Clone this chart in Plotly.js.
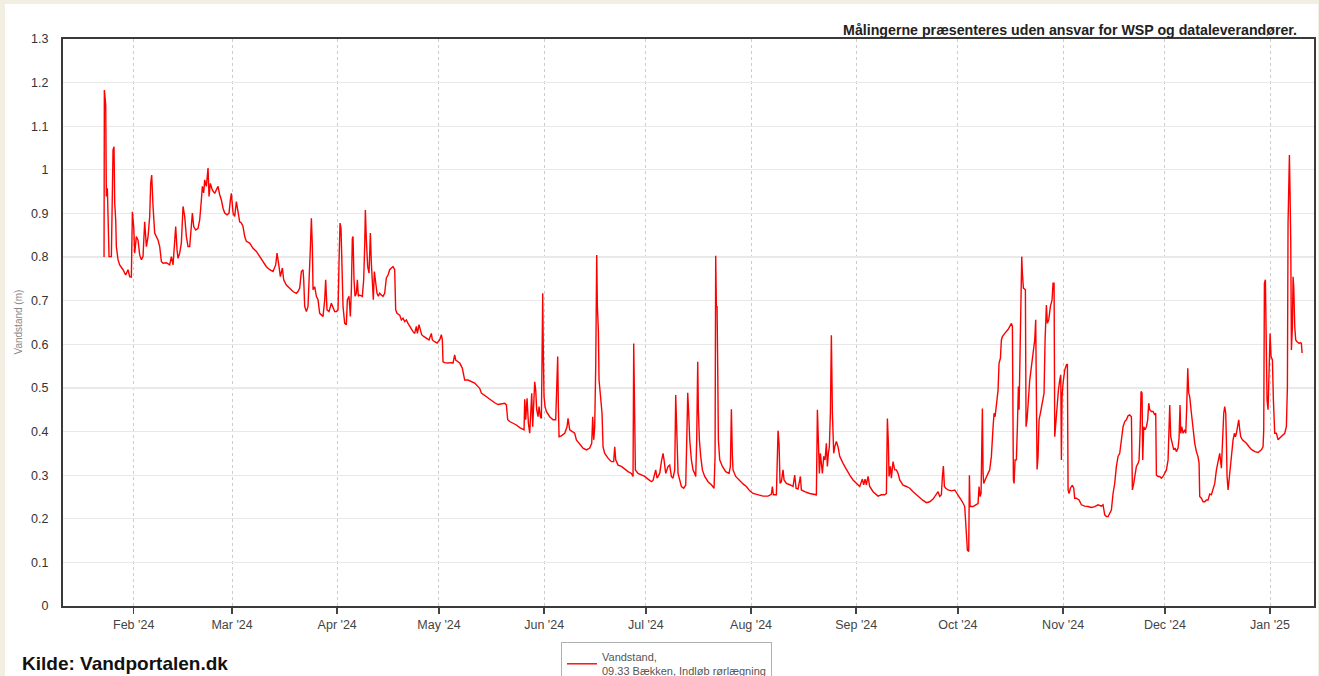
<!DOCTYPE html>
<html>
<head>
<meta charset="utf-8">
<script src="https://cdn.plot.ly/plotly-3.0.1.min.js"></script>
<style>
  html, body { margin:0; padding:0; background:#f2eee2; width:1319px; height:676px; overflow:hidden; }
  #panel { position:absolute; left:5px; top:4px; width:1313px; height:700px; background:#ffffff; }
  #chart { position:absolute; left:0; top:0; width:1319px; height:676px; }
</style>
</head>
<body>
<div id="panel"></div>
<div id="chart"></div>
<script>
// Day of year 2024 (0 = 1 Jan 2024 00:00), fractional
const day = [
22.26,22.35,22.75,22.94,23.24,23.53,23.73,24.12,24.42,24.91,25.2,25.4,25.7,25.89,26.38,26.87,27.86,28.64,29.33,29.82,
30.31,30.61,31.0,31.3,31.79,32.28,32.77,33.26,33.75,34.24,34.74,35.23,35.72,36.01,36.31,36.7,37.19,37.68,38.17,38.67,
39.16,39.65,40.63,41.61,42.11,42.6,43.38,43.78,44.07,44.56,45.05,45.55,46.04,46.53,47.02,47.51,48.0,48.3,48.69,49.28,
49.97,50.46,50.95,51.25,51.64,51.93,52.42,52.92,53.21,53.6,54.19,54.88,55.37,55.86,56.36,56.85,57.34,57.83,58.52,59.11,
59.5,59.8,60.29,60.78,61.27,61.76,62.25,62.74,63.23,63.73,64.22,65.2,66.18,67.17,68.15,69.13,70.11,71.1,72.08,72.86,
73.26,73.85,74.24,74.83,75.22,76.0,
76.99,77.97,78.95,79.44,79.94,80.43,80.92,81.12,81.41,81.9,82.39,82.69,83.08,83.38,83.67,83.87,84.36,84.85,85.34,85.83,
86.32,86.82,87.31,87.6,87.99,88.58,89.27,89.76,90.25,90.75,91.24,91.53,91.83,92.12,92.42,92.71,93.2,93.69,93.99,94.48,
94.87,95.17,95.46,95.66,95.95,96.25,96.64,96.94,97.23,97.62,98.41,98.8,99.1,99.3,99.59,99.98,100.38,100.77,101.06,101.36,
101.65,101.95,102.34,102.73,103.13,103.52,104.01,104.5,104.99,105.49,105.98,106.47,106.96,107.45,107.94,108.24,108.63,109.42,109.91,110.4,
110.89,111.38,111.87,112.37,112.86,113.35,113.84,114.33,114.63,115.12,115.51,115.9,116.49,117.28,118.06,118.75,119.05,119.74,120.43,121.21,
121.7,121.99,122.19,122.68,123.67,124.65,125.14,125.63,125.93,126.61,127.11,127.89,128.28,128.58,129.56,130.54,131.53,132.51,133.0,
133.5,134.48,135.46,136.45,137.43,138.41,139.4,140.38,140.87,141.26,141.85,142.84,143.82,144.8,145.78,146.08,146.27,146.57,146.96,147.36,
147.75,148.04,148.34,148.63,148.93,149.22,149.52,149.81,150.2,150.5,150.89,151.19,151.38,151.58,151.78,151.97,152.27,152.66,153.64,154.63,
155.41,155.71,156.0,156.2,156.4,157.08,158.07,158.75,159.05,159.54,160.33,161.01,161.51,162.49,163.47,164.45,165.44,166.03,166.32,166.62,
166.91,167.21,167.4,167.5,167.7,167.99,168.19,168.48,168.78,169.07,169.37,169.86,170.84,171.82,172.51,172.81,173.1,173.79,174.77,175.76,
176.74,177.72,178.21,178.41,178.7,178.9,179.69,180.67,181.65,182.63,183.62,184.11,184.89,185.29,186.07,186.57,187.06,187.35,187.84,188.53,
189.02,189.51,190.0,190.5,190.79,191.18,191.48,191.97,
192.46,193.15,193.74,194.13,194.33,194.62,194.92,195.41,195.9,196.39,196.69,196.98,197.28,197.47,197.77,198.16,198.65,199.34,200.32,201.31,
202.09,202.39,202.58,202.78,202.98,203.17,203.37,203.76,204.55,205.53,206.51,206.91,207.2,207.5,207.69,208.48,209.46,210.64,211.62,212.61,
213.59,215.06,216.54,218.01,218.99,219.29,219.58,220.47,220.76,220.96,221.25,221.55,221.94,222.43,222.73,223.42,224.4,225.38,225.87,226.27,
226.86,227.54,227.84,228.82,230.3,231.77,232.26,232.56,232.85,233.15,233.44,233.74,234.03,234.42,234.82,235.21,235.5,235.8,236.09,236.39,
236.68,236.98,237.37,237.67,238.16,238.65,239.14,240.12,241.11,242.09,243.07,244.05,245.04,245.82,246.21,246.61,247.0,247.49,247.98,248.97,
250.44,251.42,252.41,252.9,253.19,253.49,253.68,254.08,254.37,254.86,255.36,255.85,256.34,256.83,
257.81,258.8,259.78,260.76,261.74,262.73,263.71,264.69,265.67,266.66,267.64,268.13,268.62,269.11,269.41,269.7,270.0,270.39,271.08,272.06,
273.05,273.73,274.52,275.3,275.99,276.29,276.48,276.78,277.17,277.37,277.57,277.96,278.45,279.24,279.92,280.22,280.51,280.81,281.0,281.2,
281.4,281.59,281.99,282.38,282.87,283.36,283.85,284.35,284.64,284.94,285.33,285.82,286.11,286.51,286.8,287.1,287.79,288.77,289.75,290.05,
290.34,290.54,290.83,291.22,291.52,291.81,292.01,292.21,292.5,292.8,292.99,293.29,293.88,294.07,294.37,294.76,295.16,295.65,296.14,296.63,
296.92,297.12,297.32,297.61,297.91,298.3,298.89,299.38,299.68,300.07,300.36,300.76,301.25,301.74,302.03,302.33,302.53,302.82,303.21,303.61,
304.0,304.3,304.49,304.69,304.98,305.47,305.97,306.26,306.46,306.75,307.14,307.73,308.13,308.42,308.91,309.7,310.39,311.37,312.35,313.33,
314.32,315.3,316.28,316.77,317.27,317.76,318.25,318.74,319.23,319.72,320.21,320.7,321.2,
321.69,322.18,322.67,323.16,323.65,324.14,324.64,325.13,325.42,325.82,326.21,326.6,327.09,327.39,327.68,327.98,328.27,328.47,328.76,329.16,
329.55,329.94,330.24,330.53,331.02,331.52,332.01,332.3,332.5,332.99,333.48,333.97,334.46,334.96,335.45,335.94,336.23,336.43,336.72,337.21,
337.61,338.0,338.39,338.88,339.18,339.47,339.67,339.97,340.36,340.85,341.15,341.44,341.74,342.03,342.32,342.82,343.31,343.8,344.29,344.78,
345.08,345.27,345.76,346.26,346.75,347.24,347.73,348.22,348.71,349.2,349.7,350.19,350.68,351.17,351.66,351.96,352.35,352.64,352.94,353.13,
353.33,353.63,353.92,354.31,354.71,355.1,355.49,355.79,356.08,356.48,356.77,357.07,357.36,357.85,358.54,359.03,359.82,360.5,361.48,362.47,
363.45,363.94,364.14,364.34,364.63,364.83,365.12,365.42,365.71,366.01,366.3,366.7,366.99,367.38,367.88,368.37,368.86,369.35,369.84,370.33,
370.82,371.12,371.31,371.51,371.71,371.9,372.1,372.3,372.59,372.79,372.98,373.28,373.57,373.97,374.56,374.95,375.24,375.44
];
// Vandstand (m)
const level = [
0.80,1.183,1.149,0.939,0.958,0.855,0.801,0.801,0.801,1.046,1.053,0.924,0.885,0.824,0.794,0.782,0.771,0.759,0.771,0.755,
0.754,0.904,0.870,0.809,0.847,0.839,0.805,0.794,0.801,0.881,0.824,0.847,0.893,0.969,0.988,0.916,0.855,0.847,0.839,0.824,
0.790,0.786,0.787,0.782,0.801,0.782,0.870,0.817,0.797,0.809,0.832,0.916,0.893,0.847,0.824,0.824,0.885,0.901,0.870,0.862,
0.866,0.885,0.931,0.962,0.947,0.977,0.962,1.004,0.939,0.969,0.954,0.946,0.954,0.962,0.943,0.931,0.912,0.901,0.897,0.901,
0.931,0.946,0.901,0.893,0.927,0.901,0.881,0.878,0.870,0.847,0.836,0.832,0.820,0.813,0.801,0.790,0.778,0.771,0.767,0.782,
0.809,0.778,0.755,0.775,0.748,0.736,
0.729,0.721,0.717,0.721,0.729,0.767,0.771,0.748,0.687,0.675,0.687,0.732,0.820,0.889,0.824,0.725,0.732,0.710,0.702,0.671,
0.667,0.664,0.702,0.748,0.679,0.675,0.694,0.683,0.675,0.675,0.679,0.786,0.878,0.866,0.786,0.687,0.648,0.645,0.702,0.710,
0.664,0.725,0.843,0.847,0.748,0.710,0.717,0.748,0.710,0.713,0.710,0.748,0.824,0.908,0.840,0.778,0.763,0.855,0.786,0.748,
0.702,0.767,0.740,0.717,0.710,0.717,0.713,0.710,0.717,0.752,0.759,0.771,0.775,0.778,0.771,0.679,0.671,0.667,0.656,0.660,
0.652,0.656,0.648,0.641,0.633,0.629,0.625,0.641,0.625,0.645,0.633,0.622,0.618,0.614,0.610,0.625,0.610,0.606,0.603,0.610,
0.622,0.610,0.560,0.558,0.557,0.558,0.557,0.576,0.564,0.560,0.557,0.545,0.526,0.518,0.518,0.515,0.511,0.503,0.499,
0.488,0.482,0.476,0.471,0.466,0.462,0.463,0.465,0.461,0.427,0.423,0.419,0.415,0.409,0.405,0.404,0.474,0.427,0.476,0.419,
0.396,0.457,0.488,0.411,0.450,0.514,0.495,0.450,0.434,0.457,0.434,0.430,0.564,0.717,0.572,0.480,0.457,0.446,0.434,0.427,
0.427,0.511,0.572,0.457,0.388,0.390,0.396,0.411,0.430,0.404,0.400,0.396,0.381,0.372,0.362,0.358,0.362,0.373,0.434,0.381,
0.411,0.549,0.686,0.805,0.686,0.633,0.518,0.495,0.472,0.442,0.365,0.350,0.339,0.331,0.331,0.365,0.335,0.323,0.320,0.313,
0.308,0.304,0.297,0.602,0.442,0.312,0.304,0.300,0.297,0.291,0.285,0.288,0.312,0.293,0.304,0.331,0.350,0.335,0.304,0.320,
0.323,0.297,0.293,0.312,0.484,0.381,0.304,0.289,
0.274,0.270,0.277,0.411,0.489,0.442,0.381,0.335,0.312,0.304,0.297,0.381,0.560,0.450,0.381,0.343,0.312,0.297,0.285,0.278,
0.270,0.343,0.803,0.686,0.686,0.549,0.381,0.335,0.320,0.308,0.304,0.320,0.451,0.343,0.312,0.297,0.289,0.280,0.274,0.264,
0.258,0.255,0.252,0.252,0.256,0.274,0.255,0.255,0.343,0.402,0.373,0.281,0.285,0.312,0.289,0.281,0.278,0.274,0.300,0.270,
0.268,0.297,0.266,0.262,0.258,0.255,0.255,0.450,0.381,0.304,0.350,0.320,0.304,0.343,0.335,0.373,0.320,0.350,0.365,0.442,
0.621,0.442,0.350,0.365,0.377,0.365,0.343,0.327,0.312,0.300,0.289,0.281,0.274,0.291,0.278,0.291,0.278,0.297,0.274,0.262,
0.252,0.255,0.255,0.258,0.430,0.373,0.297,0.320,0.293,0.331,0.312,0.312,0.304,0.289,
0.277,0.274,0.270,0.262,0.255,0.247,0.242,0.237,0.239,0.245,0.255,0.262,0.251,0.255,0.297,0.321,0.274,0.270,0.266,0.264,
0.266,0.258,0.247,0.239,0.228,0.190,0.151,0.128,0.125,0.300,0.228,0.228,0.228,0.232,0.235,0.274,0.251,0.258,0.320,0.453,
0.304,0.281,0.289,0.297,0.304,0.312,0.343,0.411,0.442,0.434,0.457,0.495,0.557,0.568,0.610,0.618,0.625,0.634,0.648,0.641,
0.289,0.281,0.335,0.335,0.411,0.503,0.450,0.534,0.740,0.801,0.763,0.729,0.725,0.411,0.427,0.472,0.518,0.549,0.579,0.610,
0.656,0.442,0.313,0.342,0.427,0.442,0.465,0.488,0.610,0.690,0.648,0.656,0.687,0.702,0.740,0.740,0.388,0.419,0.457,0.495,
0.518,0.530,0.335,0.480,0.511,0.541,0.553,0.555,0.266,0.258,0.270,0.277,0.270,0.247,0.247,0.243,0.232,0.229,0.228,0.226,
0.228,0.232,0.229,0.232,0.209,0.205,0.205,0.213,0.220,0.258,0.281,0.320,0.343,
0.350,0.381,0.411,0.423,0.427,0.436,0.438,0.434,0.266,0.281,0.304,0.320,0.327,0.335,0.396,0.492,0.488,0.335,0.411,0.404,
0.411,0.427,0.465,0.450,0.446,0.446,0.438,0.442,0.300,0.297,0.297,0.293,0.297,0.304,0.312,0.335,0.457,0.461,0.388,0.373,
0.358,0.362,0.354,0.362,0.385,0.461,0.396,0.411,0.396,0.404,0.396,0.457,0.545,0.488,0.480,0.442,0.404,0.373,0.354,0.342,
0.327,0.251,0.247,0.239,0.239,0.243,0.243,0.257,0.255,0.266,0.281,0.312,0.331,0.350,0.316,0.373,0.442,0.457,0.442,0.381,
0.297,0.266,0.289,0.335,0.350,0.381,0.396,0.388,0.396,0.411,0.427,0.404,0.388,0.381,0.377,0.373,0.365,0.359,0.354,0.352,
0.358,0.365,0.404,0.740,0.748,0.610,0.472,0.450,0.518,0.625,0.572,0.564,0.472,0.396,0.396,0.381,0.385,0.388,0.392,0.396,
0.411,0.503,0.878,0.954,1.034,0.946,0.839,0.587,0.641,0.755,0.733,0.641,0.610,0.606,0.602,0.604,0.602,0.580
];

const seriesName = "Vandstand,<br>09.33 Bækken, Indløb rørlægning";
const titleText = "Målingerne præsenteres uden ansvar for WSP og dataleverandører.";
const yTitle = "Vandstand (m)";
const sourceText = "Kilde: Vandportalen.dk";
const yTicks = [0,0.1,0.2,0.3,0.4,0.5,0.6,0.7,0.8,0.9,1,1.1,1.2,1.3];
const yTickText = ["0","0.1","0.2","0.3","0.4","0.5","0.6","0.7","0.8","0.9","1","1.1","1.2","1.3"];

function toDate(d) {
  const t = new Date(Date.UTC(2024, 0, 1) + d * 86400000);
  return t.toISOString().slice(0, 16).replace('T', ' ');
}
const xDates = day.map(toDate);

const FONT = "Liberation Sans, Arial, sans-serif";

const trace = {
  type: 'scatter', mode: 'lines',
  x: xDates, y: level,
  name: seriesName,
  line: { color: '#ff0000', width: 1.4 },
  showlegend: true
};

const layout = {
  width: 1319, height: 676,
  margin: { l: 63, r: 5, t: 39, b: 70, pad: 0, autoexpand: false },
  paper_bgcolor: 'rgba(0,0,0,0)',
  plot_bgcolor: '#ffffff',
  font: { family: FONT, color: '#444' },
  title: {
    text: '<b>' + titleText + '</b>',
    x: 1297 / 1319, xanchor: 'right', xref: 'container',
    y: 1 - 30 / 676, yanchor: 'middle', yref: 'container',
    font: { family: FONT, size: 14.2, color: '#222' }
  },
  xaxis: {
    type: 'date',
    range: [toDate(10.16), toDate(378.96)],
    tick0: '2024-02-01', dtick: 'M1',
    tickformat: "%b '%y",
    ticks: 'outside', ticklen: 6, tickwidth: 1.5, tickcolor: '#444',
    tickfont: { family: FONT, size: 12.5, color: '#444' },
    showgrid: true, gridcolor: '#cccccc', gridwidth: 1, griddash: 'dot',
    showline: true, linecolor: '#3a3a3a', linewidth: 2, mirror: true,
    zeroline: false, fixedrange: true
  },
  yaxis: {
    range: [0, 1.3],
    tickmode: 'array', tickvals: yTicks, ticktext: yTickText,
    ticks: '', ticklabelstandoff: 10,
    tickfont: { family: FONT, size: 12.5, color: '#333' },
    showgrid: true, gridcolor: '#e9e9e9', gridwidth: 1.2,
    showline: true, linecolor: '#3a3a3a', linewidth: 2, mirror: true,
    zeroline: false, fixedrange: true
  },
  showlegend: true,
  legend: {
    xref: 'container', yref: 'container',
    x: 561 / 1319, y: 1 - 642 / 676, xanchor: 'left', yanchor: 'top',
    bgcolor: '#ffffff', bordercolor: '#b0b0b0', borderwidth: 1,
    font: { family: FONT, size: 11, color: '#555' },
    itemwidth: 30
  },
  annotations: [
    {
      text: '<b>' + sourceText + '</b>',
      xref: 'paper', yref: 'paper',
      x: (20 - 63) / 1251, xanchor: 'left',
      y: (606 - 664) / 567, yanchor: 'middle',
      showarrow: false,
      font: { family: FONT, size: 19, color: '#111' }
    },
    {
      text: yTitle, textangle: -90,
      xref: 'paper', yref: 'paper',
      x: (18 - 63) / 1251, xanchor: 'center',
      y: 0.5, yanchor: 'middle',
      showarrow: false,
      font: { family: FONT, size: 10, color: '#888' }
    }
  ]
};

Plotly.newPlot('chart', [trace], layout, { displayModeBar: false, staticPlot: true });
</script>
</body>
</html>
